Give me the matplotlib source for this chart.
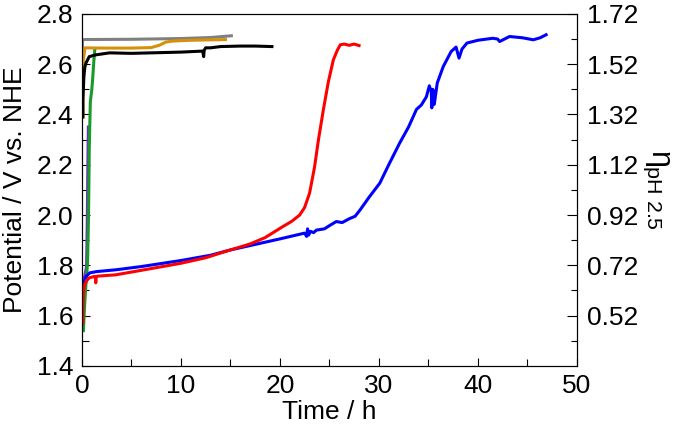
import matplotlib
matplotlib.use("Agg")
import matplotlib.pyplot as plt
from matplotlib.ticker import MultipleLocator, FixedLocator

plt.rcParams['font.family'] = ['Liberation Sans', 'DejaVu Sans']
plt.rcParams['mathtext.fontset'] = 'custom'
plt.rcParams['mathtext.rm'] = 'Liberation Sans'
plt.rcParams['mathtext.it'] = 'Liberation Sans'

# time (h) / potential (V vs. NHE) for each run
blue_t = [0.1, 0.2, 0.4, 0.8, 1.5, 3.4, 6, 10, 13, 15, 18.3, 20, 22.5, 22.7, 22.8, 22.9, 23.1,
          23.4, 23.7, 24.5, 25.1, 25.7, 26.3, 27, 27.6, 28.1, 29, 30.1, 31, 32.1, 33, 33.8, 34.3,
          34.8, 35.1, 35.3, 35.35, 35.45, 35.6, 35.9, 36.5, 37.3, 37.8, 38.1, 38.4, 38.9, 40,
          41.5, 42.0, 42.2, 43.2, 44.5, 45.6, 46.3, 46.9]
blue_v = [1.70, 1.73, 1.755, 1.77, 1.775, 1.782, 1.795, 1.819, 1.84, 1.861, 1.89, 1.905, 1.928,
          1.915, 1.945, 1.92, 1.935, 1.93, 1.94, 1.945, 1.96, 1.974, 1.97, 1.985, 1.995, 2.02,
          2.07, 2.127, 2.20, 2.286, 2.35, 2.42, 2.438, 2.47, 2.514, 2.49, 2.426, 2.50, 2.44,
          2.525, 2.59, 2.65, 2.668, 2.624, 2.66, 2.684, 2.695, 2.703, 2.70, 2.69, 2.71, 2.705,
          2.697, 2.705, 2.717]

red_t = [0.1, 0.1, 0.15, 0.25, 0.5, 0.74, 1.2, 1.35, 1.4, 1.45, 1.6, 3.4, 6, 10, 12.5, 14.9, 17,
         18.5, 20.3, 21.2, 22.0, 22.5, 23.0, 23.5, 23.9, 24.4, 24.9, 25.4, 25.8, 26.1, 26.5, 27,
         27.5, 28.0]
red_v = [1.57, 1.64, 1.69, 1.72, 1.74, 1.75, 1.755, 1.755, 1.73, 1.755, 1.757, 1.762, 1.78,
         1.808, 1.83, 1.86, 1.885, 1.91, 1.954, 1.975, 2.0, 2.03, 2.087, 2.19, 2.30, 2.42, 2.53,
         2.617, 2.655, 2.677, 2.68, 2.675, 2.68, 2.674]

black_t = [0.1, 0.1, 0.2, 0.3, 0.4, 0.74, 1.4, 2.8, 5, 8, 10, 12.2, 12.3, 12.35, 12.5, 13, 14,
           16, 17.5, 19.2]
black_v = [2.39, 2.46, 2.55, 2.59, 2.604, 2.63, 2.637, 2.645, 2.643, 2.646, 2.648, 2.652, 2.63,
           2.655, 2.665, 2.665, 2.67, 2.672, 2.672, 2.67]

gray_t = [0.05, 0.05, 0.3, 5, 10, 13, 15.1]
gray_v = [2.645, 2.697, 2.698, 2.699, 2.702, 2.706, 2.713]

orange_t = [0.1, 0.1, 0.3, 2, 5, 7.0, 7.8, 8.5, 9.2, 11, 14.5]
orange_v = [2.39, 2.60, 2.665, 2.664, 2.664, 2.666, 2.675, 2.688, 2.692, 2.695, 2.698]

green_t = [0.15, 0.2, 0.27, 0.4, 0.57, 0.67, 0.74, 0.85, 1.0, 1.08, 1.2, 1.3]
green_v = [1.54, 1.58, 1.64, 1.72, 1.81, 2.0, 2.26, 2.45, 2.50, 2.538, 2.61, 2.657]

purple_t = [0.15, 0.3, 0.47, 0.55, 0.6, 0.65]
purple_v = [1.73, 1.76, 1.795, 2.0, 2.2, 2.35]

eta_ticks = [0.52, 0.72, 0.92, 1.12, 1.32, 1.52, 1.72]
eta_minor = [0.42, 0.62, 0.82, 1.02, 1.22, 1.42, 1.62]

fs = 19

fig = plt.figure(figsize=(6.77, 4.34), dpi=100)
ax = fig.add_axes([0.121, 0.157, 0.731, 0.811])

lw = 2.2
ax.plot(purple_t, purple_v, color='#7030c0', lw=lw)
ax.plot(green_t, green_v, color='#1a9a2a', lw=lw)
ax.plot(gray_t, gray_v, color='#808080', lw=lw)
ax.plot(orange_t, orange_v, color='#d4920a', lw=lw)
ax.plot(black_t, black_v, color='black', lw=lw)
ax.plot(blue_t, blue_v, color='#0000ff', lw=lw)
ax.plot(red_t, red_v, color='#ff0000', lw=lw)

ax.set_xlim(0, 50)
ax.set_ylim(1.4, 2.8)
ax.xaxis.set_major_locator(MultipleLocator(10))
ax.xaxis.set_minor_locator(MultipleLocator(5))
ax.yaxis.set_major_locator(MultipleLocator(0.2))
ax.yaxis.set_minor_locator(MultipleLocator(0.1))
ax.yaxis.set_major_formatter(matplotlib.ticker.FormatStrFormatter('%.1f'))
ax.tick_params(which='both', direction='in', labelsize=fs, width=0.8)
ax.tick_params(which='major', length=6, pad=6)
ax.tick_params(which='minor', length=5)
ax.set_xlabel('Time / h', fontsize=fs, labelpad=1)
ax.set_ylabel('Potential / V vs. NHE', fontsize=fs, labelpad=7)

ax2 = ax.twinx()
ax2.set_ylim(0.32, 1.72)
ax2.yaxis.set_major_locator(FixedLocator(eta_ticks))
ax2.yaxis.set_minor_locator(FixedLocator(eta_minor))
ax2.yaxis.set_major_formatter(matplotlib.ticker.FormatStrFormatter('%.2f'))
ax2.tick_params(which='both', direction='in', labelsize=fs, width=0.8)
ax2.tick_params(which='major', length=7, pad=7)
ax2.tick_params(which='minor', length=4)
ax2.set_ylabel(r'$\eta_{\mathrm{pH\ 2.5}}$', fontsize=22, rotation=-90, labelpad=24)

fig.savefig('out.png', dpi=100)
